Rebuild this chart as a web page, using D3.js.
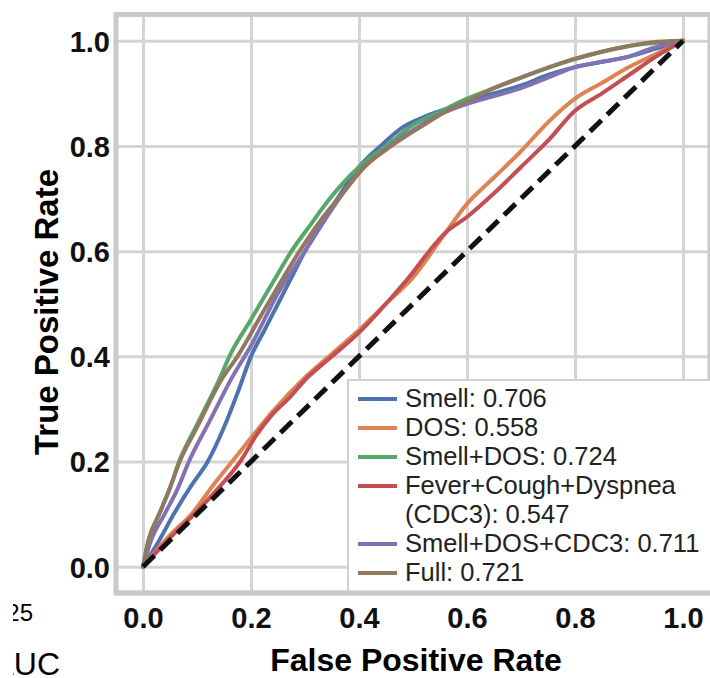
<!DOCTYPE html>
<html>
<head>
<meta charset="utf-8">
<script src="https://cdn.jsdelivr.net/npm/d3@7"></script>
<style>
  body { margin: 0; background: #fff; }
  text { font-family: "Liberation Sans", Arial, sans-serif; }
</style>
</head>
<body>
<div id="chart"></div>
<script>
// ROC curves, [false positive rate, true positive rate]
const smell = [[0,0],[0.03,0.05],[0.057,0.10],[0.09,0.155],[0.12,0.2],[0.15,0.265],[0.175,0.33],[0.2,0.40],[0.225,0.45],[0.25,0.50],[0.275,0.55],[0.3,0.60],[0.33,0.65],[0.36,0.70],[0.4,0.76],[0.44,0.80],[0.48,0.835],[0.52,0.855],[0.56,0.87],[0.6,0.885],[0.65,0.90],[0.7,0.915],[0.75,0.935],[0.8,0.95],[0.85,0.96],[0.9,0.97],[0.95,0.985],[1,1]];
const dos = [[0,0],[0.05,0.06],[0.09,0.10],[0.13,0.155],[0.165,0.2],[0.2,0.245],[0.24,0.295],[0.3,0.36],[0.35,0.405],[0.4,0.45],[0.45,0.50],[0.5,0.55],[0.55,0.62],[0.6,0.69],[0.65,0.74],[0.7,0.79],[0.75,0.845],[0.8,0.89],[0.85,0.92],[0.9,0.95],[0.95,0.975],[1,1]];
const smellDos = [[0,0],[0.01,0.05],[0.03,0.10],[0.05,0.15],[0.067,0.2],[0.1,0.27],[0.143,0.36],[0.16,0.40],[0.2,0.47],[0.24,0.54],[0.275,0.60],[0.31,0.65],[0.346,0.70],[0.4,0.76],[0.45,0.80],[0.5,0.84],[0.55,0.865],[0.6,0.89],[0.65,0.91],[0.7,0.93],[0.8,0.965],[0.9,0.99],[1,1]];
const cdc3 = [[0,0],[0.05,0.055],[0.095,0.10],[0.14,0.15],[0.18,0.2],[0.21,0.25],[0.24,0.29],[0.27,0.32],[0.3,0.355],[0.35,0.40],[0.4,0.445],[0.45,0.50],[0.5,0.56],[0.53,0.60],[0.56,0.635],[0.6,0.665],[0.65,0.71],[0.7,0.76],[0.75,0.81],[0.8,0.867],[0.85,0.90],[0.9,0.935],[0.95,0.97],[1,1]];
const smellDosCdc3 = [[0,0],[0.015,0.05],[0.04,0.10],[0.065,0.15],[0.085,0.2],[0.125,0.28],[0.165,0.36],[0.2,0.42],[0.25,0.52],[0.3,0.60],[0.35,0.68],[0.4,0.75],[0.45,0.795],[0.5,0.83],[0.55,0.86],[0.6,0.88],[0.65,0.895],[0.7,0.91],[0.75,0.93],[0.8,0.95],[0.85,0.96],[0.9,0.97],[0.94,0.985],[1,1]];
const full = [[0,0],[0.01,0.05],[0.03,0.10],[0.05,0.15],[0.068,0.2],[0.1,0.265],[0.145,0.355],[0.175,0.40],[0.22,0.48],[0.26,0.55],[0.29,0.60],[0.33,0.66],[0.37,0.71],[0.41,0.76],[0.46,0.80],[0.52,0.84],[0.56,0.865],[0.6,0.885],[0.65,0.91],[0.7,0.93],[0.8,0.966],[0.9,0.99],[0.94,0.997],[1,1]];
const chance = [[0,0],[1,1]];

const seriesData = [smell, dos, smellDos, cdc3, smellDosCdc3, full];
const seriesLabels = ["Smell: 0.706", "DOS: 0.558", "Smell+DOS: 0.724", "Fever+Cough+Dyspnea\n(CDC3): 0.547", "Smell+DOS+CDC3: 0.711", "Full: 0.721"];
const seriesColors = ["#4c72b0", "#dd8452", "#55a868", "#c44e52", "#8172b3", "#937860"];
const tickValues = [0, 0.2, 0.4, 0.6, 0.8, 1.0];

const width = 710, height = 678;

var svg = d3.select("#chart").append("svg")
  .attr("width", width)
  .attr("height", height);

// scales: 0 -> 143px, 1 -> 683px ; padding of 0.05 on each side like matplotlib
var x = d3.scaleLinear().domain([-0.05, 1.05]).range([116, 710]);
var y = d3.scaleLinear().domain([-0.05, 1.05]).range([593, 14.5]);

// grid
var xAxis = svg.append("g")
  .attr("transform", "translate(0," + y(-0.05) + ")")
  .call(d3.axisBottom(x).tickValues(tickValues).tickSize(-(y(-0.05) - y(1.05))).tickFormat(d3.format(".1f")).tickPadding(14));
var yAxis = svg.append("g")
  .attr("transform", "translate(" + x(-0.05) + ",0)")
  .call(d3.axisLeft(y).tickValues(tickValues).tickSize(-(x(1.05) - x(-0.05))).tickFormat(d3.format(".1f")).tickPadding(8));

[xAxis, yAxis].forEach(function (g) {
  g.select(".domain").remove();
  g.selectAll(".tick line").attr("stroke", "#d4d4d4").attr("stroke-width", 3);
  g.selectAll(".tick text")
    .attr("fill", "#111")
    .style("font-size", "29px")
    .style("font-weight", "bold")
    .style("font-family", "'Liberation Sans', Arial, sans-serif");
});
xAxis.selectAll(".tick text").attr("dy", "0.72em");
yAxis.selectAll(".tick text").attr("x", -6).attr("dy", "0.36em");

// frame
svg.append("rect")
  .attr("x", x(-0.05))
  .attr("y", y(1.05))
  .attr("width", x(1.05) - x(-0.05))
  .attr("height", y(-0.05) - y(1.05))
  .attr("fill", "none")
  .attr("stroke", "#cacaca")
  .attr("stroke-width", 5);

var line = d3.line()
  .curve(d3.curveMonotoneX)
  .x(function (d) { return x(d[0]); })
  .y(function (d) { return y(d[1]); });

svg.append("g").selectAll("path")
  .data(seriesData)
  .enter()
  .append("path")
  .attr("d", line)
  .attr("fill", "none")
  .attr("stroke", function (d, i) { return seriesColors[i]; })
  .attr("stroke-width", 4)
  .attr("stroke-linejoin", "round")
  .attr("stroke-linecap", "round");

// chance line
svg.append("path")
  .datum(chance)
  .attr("d", line)
  .attr("fill", "none")
  .attr("stroke", "#111")
  .attr("stroke-width", 5)
  .attr("stroke-dasharray", "16,8");

// legend
var legend = svg.append("g");
legend.append("rect")
  .attr("x", 348)
  .attr("y", 380)
  .attr("width", 380)
  .attr("height", 212)
  .attr("fill", "#fff")
  .attr("stroke", "#d0d0d0")
  .attr("stroke-width", 2);

var row = 0;
seriesLabels.forEach(function (label, i) {
  var base = 407 + row * 29;
  legend.append("line")
    .attr("x1", 358).attr("x2", 397)
    .attr("y1", base - 8).attr("y2", base - 8)
    .attr("stroke", seriesColors[i])
    .attr("stroke-width", 4);
  var t = legend.append("text")
    .attr("x", 405)
    .attr("y", base)
    .attr("fill", "#222")
    .style("font-size", "25.5px");
  label.split("\n").forEach(function (part, j) {
    t.append("tspan").attr("x", 405).attr("y", base + j * 29).text(part);
    row++;
  });
});

// re-draw frame bottom over the legend
svg.append("line")
  .attr("x1", x(-0.05)).attr("x2", x(1.05))
  .attr("y1", y(-0.05)).attr("y2", y(-0.05))
  .attr("stroke", "#cacaca")
  .attr("stroke-width", 5);

// axis titles
svg.append("text")
  .attr("x", x(0.5) + 3)
  .attr("y", 671)
  .attr("text-anchor", "middle")
  .style("font-size", "32px")
  .style("font-weight", "bold")
  .text("False Positive Rate");

svg.append("text")
  .attr("transform", "translate(58," + 312 + ") rotate(-90)")
  .attr("text-anchor", "middle")
  .style("font-size", "33px")
  .style("font-weight", "bold")
  .text("True Positive Rate");

// cut-off pieces of the neighbouring panel
svg.append("clipPath").attr("id", "cut")
  .append("rect").attr("x", 13).attr("y", 0).attr("width", 100).attr("height", height);
var cut = svg.append("g").attr("clip-path", "url(#cut)");
cut.append("text")
  .attr("x", 33).attr("y", 621)
  .attr("text-anchor", "end")
  .style("font-size", "24px")
  .text("0.25");
cut.append("text")
  .attr("x", 60).attr("y", 675)
  .attr("text-anchor", "end")
  .style("font-size", "32px")
  .text("AUC");
</script>
</body>
</html>
